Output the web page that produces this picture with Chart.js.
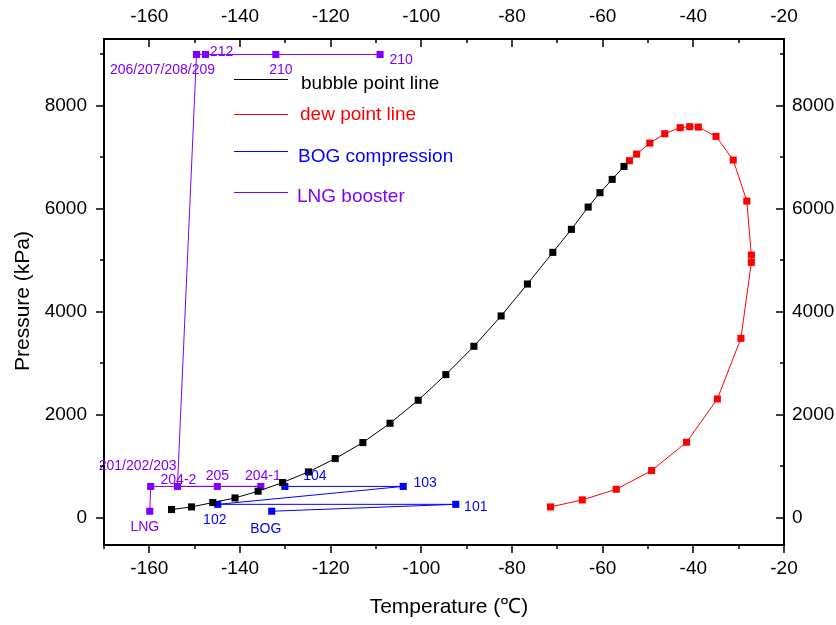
<!DOCTYPE html>
<html>
<head>
<meta charset="utf-8">
<title>Phase envelope</title>
<script src="https://cdn.jsdelivr.net/npm/chart.js@4.4.0/dist/chart.umd.min.js"></script>
<style>
  html, body { margin: 0; padding: 0; background: #fff; }
  #wrap { width: 836px; height: 625px; }
</style>
</head>
<body>
<div id="wrap"><canvas id="chart" width="836" height="625"></canvas></div>
<script>
// axis ranges and tick labels
const xMin = -170, xMax = -20;
const yMin = -530, yMax = 9300;
const xTickLabels = [-160, -140, -120, -100, -80, -60, -40, -20];
const yTickLabels = [0, 2000, 4000, 6000, 8000];

// bubble point line
const bubbleT = [-155.1, -150.7, -146.0, -141.1, -136.0, -130.6, -124.9, -119.0, -112.9, -106.9,
                 -100.7, -94.6, -88.4, -82.4, -76.6, -71.0, -66.9, -63.2, -60.6, -57.9, -55.3];
const bubbleP = [159, 210, 295, 384, 515, 683, 890, 1149, 1460, 1835,
                 2282, 2780, 3330, 3920, 4540, 5155, 5602, 6035, 6314, 6573, 6825];

// dew point line
const dewT = [-71.5, -64.5, -57.0, -49.2, -41.5, -34.7, -29.5, -27.2, -27.2, -28.2,
              -31.2, -35.0, -38.9, -40.8, -42.9, -46.3, -49.6, -52.5, -54.1];
const dewP = [210, 346, 553, 916, 1466, 2307, 3485, 4961, 5103, 6151,
              6948, 7408, 7589, 7596, 7577, 7460, 7278, 7064, 6936];

// BOG compression
const bogNames = ['BOG', '101', '102', '103', '104'];
const bogT = [-133.0, -92.4, -144.9, -104.0, -130.1];
const bogP = [126, 260, 260, 608, 608];

// LNG booster
const lngNames = ['LNG', '201/202/203', '204-1', '205', '204-2', '206/207/208/209', '212', '210', '210'];
const lngT = [-159.9, -159.7, -135.4, -145.0, -153.8, -149.6, -147.6, -132.1, -109.1];
const lngP = [126, 608, 608, 608, 608, 9000, 9000, 9000, 9000];

const FONT = "'Liberation Sans', Arial, sans-serif";
const PURPLE = '#8000ff';
const BLUE = '#0000ff';
const RED = '#ff0000';

const pts = (xs, ys) => xs.map((x, i) => ({ x: x, y: ys[i] }));

function series(label, xs, ys, color, names) {
    return {
        label: label,
        data: pts(xs, ys),
        names: names,
        showLine: true,
        borderColor: color,
        borderWidth: 1,
        backgroundColor: color,
        pointStyle: 'rect',
        pointRadius: 5,
        pointHoverRadius: 5,
        pointBorderWidth: 0,
        tension: 0
    };
}

// label placement relative to its point, in pixels
const labelOffsets = {
    'LNG booster': [[-5, 16], [-13, -20], [2, -10], [0, -10], [1, -6], [-34, 16], [16, -2], [5, 16], [21, 6]],
    'BOG compression': [[-6, 18], [20, 3], [-3, 16], [22, -3], [30, -10]]
};

const pointLabels = {
    id: 'pointLabels',
    afterDatasetsDraw(chart) {
        const ctx = chart.ctx;
        ctx.save();
        ctx.font = '14px ' + FONT;
        ctx.textAlign = 'center';
        ctx.textBaseline = 'middle';
        chart.data.datasets.forEach((ds, di) => {
            if (!ds.names) return;
            const meta = chart.getDatasetMeta(di);
            const offs = labelOffsets[ds.label];
            ctx.fillStyle = ds.borderColor;
            meta.data.forEach((el, i) => {
                ctx.fillText(ds.names[i], el.x + offs[i][0], el.y + offs[i][1]);
            });
        });
        ctx.restore();
    }
};

// legend sits inside the plot, Origin style
const insideLegend = {
    id: 'insideLegend',
    afterDraw(chart) {
        const ctx = chart.ctx;
        const rows = [[79, 84, 301], [114, 115, 300], [151, 157, 298], [192, 197, 297]];
        ctx.save();
        ctx.font = '19px ' + FONT;
        ctx.textBaseline = 'middle';
        chart.data.datasets.forEach((ds, i) => {
            const r = rows[i];
            ctx.strokeStyle = ds.borderColor;
            ctx.lineWidth = 1.2;
            ctx.beginPath();
            ctx.moveTo(234, r[0] + 0.5);
            ctx.lineTo(288, r[0] + 0.5);
            ctx.stroke();
            ctx.fillStyle = ds.borderColor;
            ctx.fillText(ds.label, r[2], r[1]);
        });
        ctx.restore();
    }
};

// tick marks: outward on left/bottom, inward on top/right
const tickMarks = {
    id: 'tickMarks',
    afterDraw(chart) {
        const ctx = chart.ctx;
        const a = chart.chartArea;
        const xs = chart.scales.x, ys = chart.scales.y;
        ctx.save();
        ctx.strokeStyle = '#000';
        ctx.lineWidth = 1.5;
        ctx.beginPath();
        for (let v = xMin; v <= xMax; v += 10) {
            const len = v % 20 === 0 ? 8 : 4;
            const px = Math.round(xs.getPixelForValue(v));
            ctx.moveTo(px, a.bottom); ctx.lineTo(px, a.bottom + len);
            ctx.moveTo(px, a.top); ctx.lineTo(px, a.top + len);
        }
        for (let v = 0; v <= 9000; v += 1000) {
            const len = v % 2000 === 0 ? 8 : 4;
            const py = Math.round(ys.getPixelForValue(v));
            ctx.moveTo(a.left, py); ctx.lineTo(a.left - len, py);
            ctx.moveTo(a.right, py); ctx.lineTo(a.right - len, py);
        }
        ctx.stroke();

        // axis titles
        ctx.fillStyle = '#000';
        ctx.font = '21px ' + FONT;
        ctx.textAlign = 'center';
        ctx.textBaseline = 'middle';
        ctx.fillText('Temperature (\u2103)', 449, 607);
        ctx.translate(23, 301);
        ctx.rotate(-Math.PI / 2);
        ctx.fillText('Pressure (kPa)', 0, 0);
        ctx.restore();
    }
};

function axis(pos, min, max, labels, size, pad) {
    return {
        type: 'linear',
        position: pos,
        min: min,
        max: max,
        grid: { display: true, drawOnChartArea: false, drawTicks: false },
        border: { display: true, color: '#000', width: 2 },
        ticks: {
            color: '#000',
            font: { family: FONT, size: 19 },
            padding: pad,
            maxRotation: 0,
            callback: v => String(v)
        },
        afterBuildTicks: s => { s.ticks = labels.map(v => ({ value: v })); },
        afterFit: s => {
            if (pos === 'left' || pos === 'right') s.width = size; else s.height = size;
        }
    };
}

new Chart(document.getElementById('chart'), {
    type: 'scatter',
    data: {
        datasets: [
            series('bubble point line', bubbleT, bubbleP, '#000000'),
            series('dew point line', dewT, dewP, RED),
            series('BOG compression', bogT, bogP, BLUE, bogNames),
            series('LNG booster', lngT, lngP, PURPLE, lngNames)
        ]
    },
    options: {
        responsive: false,
        animation: false,
        layout: { padding: 0 },
        plugins: { legend: { display: false }, tooltip: { enabled: false } },
        scales: {
            x: axis('bottom', xMin, xMax, xTickLabels, 80, 12),
            x2: axis('top', xMin, xMax, xTickLabels, 39, 11),
            y: axis('left', yMin, yMax, yTickLabels, 104, 17),
            y2: axis('right', yMin, yMax, yTickLabels, 52, 8)
        }
    },
    plugins: [pointLabels, insideLegend, tickMarks]
});
</script>
</body>
</html>
